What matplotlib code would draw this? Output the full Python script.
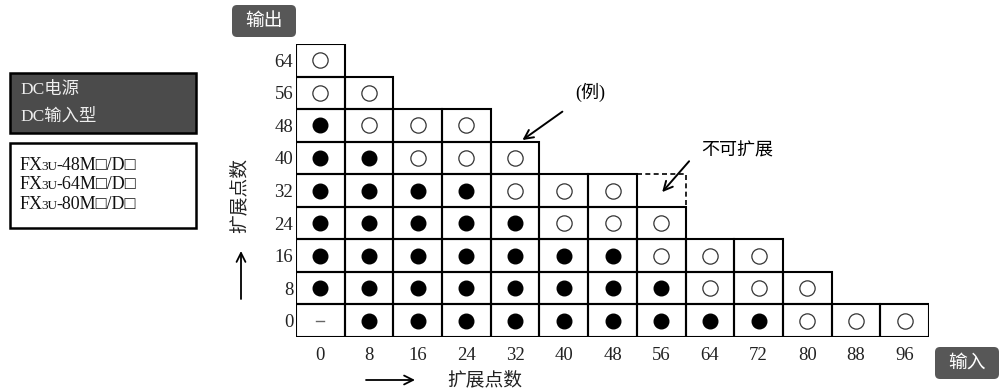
import matplotlib
matplotlib.use("Agg")
import matplotlib.pyplot as plt
from matplotlib.patches import Rectangle, FancyBboxPatch

plt.rcParams['font.family'] = ['Liberation Serif', 'Noto Sans CJK SC', 'DejaVu Sans']

# ---------------- data ----------------
input_points = [0, 8, 16, 24, 32, 40, 48, 56, 64, 72, 80, 88, 96]
output_points = [0, 8, 16, 24, 32, 40, 48, 56, 64]
# cell states per input column, from output 0 upward: F = filled, O = open, N = not applicable
col_cells = [
    ['N', 'F', 'F', 'F', 'F', 'F', 'F', 'O', 'O'],
    ['F', 'F', 'F', 'F', 'F', 'F', 'O', 'O'],
    ['F', 'F', 'F', 'F', 'F', 'O', 'O'],
    ['F', 'F', 'F', 'F', 'F', 'O', 'O'],
    ['F', 'F', 'F', 'F', 'O', 'O'],
    ['F', 'F', 'F', 'O', 'O'],
    ['F', 'F', 'F', 'O', 'O'],
    ['F', 'F', 'O', 'O'],
    ['F', 'O', 'O'],
    ['F', 'O', 'O'],
    ['O', 'O'],
    ['O'],
    ['O'],
]
dashed_cell = (56, 32)  # (input, output) not expandable
example_cell = (32, 40)
model_prefix = 'FX'
model_sub = '3U'
model_suffixes = ['-48M□/D□', '-64M□/D□', '-80M□/D□']
header_lines = ['DC电源', 'DC输入型']

W, H = 1001, 389
fig = plt.figure(figsize=(W / 100, H / 100), dpi=100)

# full-figure pixel axes for decorations
bg = fig.add_axes([0, 0, 1, 1])
bg.set_xlim(0, W)
bg.set_ylim(H, 0)
bg.axis('off')

# grid axes
gl, gr, gt, gb = 296, 929, 44, 337
ax = fig.add_axes([gl / W, (H - gb) / H, (gr - gl) / W, (gb - gt) / H])
ncol, nrow = len(input_points), len(output_points)
ax.set_xlim(0, ncol)
ax.set_ylim(0, nrow)
for s in ax.spines.values():
    s.set_visible(False)
ax.set_xticks([i + 0.5 for i in range(ncol)])
ax.set_xticklabels([str(v) for v in input_points])
ax.set_yticks([j + 0.5 for j in range(nrow)])
ax.set_yticklabels([str(v) for v in output_points])
ax.tick_params(length=0, labelsize=13.5, colors='#222222')
ax.tick_params(axis='x', pad=7)
ax.tick_params(axis='y', pad=2)
ax.patch.set_alpha(0)

lw = 1.5
for i, cells in enumerate(col_cells):
    for j, st in enumerate(cells):
        ax.add_patch(Rectangle((i, j), 1, 1, fill=False, ec='black', lw=lw, zorder=2))
        if st == 'F':
            ax.plot(i + 0.5, j + 0.5, 'o', ms=10.5, color='black', zorder=3)
        elif st == 'O':
            ax.plot(i + 0.5, j + 0.5, 'o', ms=11, mfc='white', mec='#333333', mew=0.9, zorder=3)
        else:
            ax.plot([i + 0.42, i + 0.58], [j + 0.5, j + 0.5], color='#666666', lw=1.0, zorder=3)

di = input_points.index(dashed_cell[0])
dj = output_points.index(dashed_cell[1])
ax.plot([di, di + 1, di + 1], [dj + 1, dj + 1, dj], ls=(0, (3, 2)), color='black', lw=1.2, zorder=2)

# annotations
ei = input_points.index(example_cell[0])
ej = output_points.index(example_cell[1])
ax.annotate('(例)', xy=(ei + 0.65, ej + 1.05), xycoords='data',
            xytext=(590, 92), textcoords=bg.transData, fontsize=13,
            ha='center', va='center',
            arrowprops=dict(arrowstyle='->', lw=1.4, color='black', shrinkA=9, shrinkB=0,
                            mutation_scale=16))
ax.annotate('不可扩展', xy=(di + 0.52, dj + 0.45), xycoords='data',
            xytext=(737, 151), textcoords=bg.transData, fontsize=13,
            ha='center', va='center',
            arrowprops=dict(arrowstyle='->', lw=1.4, color='black', shrinkA=10, shrinkB=0,
                            mutation_scale=16, relpos=(0, 0.7)))

# rounded labels
def tag(x0, y0, x1, y1, text):
    bg.add_patch(FancyBboxPatch((x0 + 5, y0 + 5), x1 - x0 - 10, y1 - y0 - 10,
                                boxstyle='round,pad=5', fc='#575757', ec='none'))
    bg.text((x0 + x1) / 2, (y0 + y1) / 2, text, color='white', fontsize=13.5,
            ha='center', va='center')

tag(232, 5, 296, 37, '输出')
tag(935, 347, 999, 379, '输入')

# left boxes
bg.add_patch(Rectangle((10, 73), 186, 60, fc='#4b4b4b', ec='black', lw=1.8))
for k, t in enumerate(header_lines):
    bg.text(20, 90 + k * 27, t, color='#eeeeee', fontsize=12.5, ha='left', va='center')
bg.add_patch(Rectangle((10, 143), 186, 85, fc='white', ec='black', lw=1.8))
for k, suf in enumerate(model_suffixes):
    y = 165 + k * 19.5
    t1 = bg.text(20, y, model_prefix, color='#111111', fontsize=13, ha='left', va='center')
    t2 = bg.annotate(model_sub, xy=(1, 0.5), xycoords=t1, xytext=(-1.2, -1.2),
                     textcoords='offset points', color='#111111', fontsize=9.5,
                     ha='left', va='center')
    bg.annotate(suf, xy=(1, 0.5), xycoords=t2, xytext=(-0.8, 1.2),
                textcoords='offset points', color='#111111', fontsize=13,
                ha='left', va='center')

# axis titles and arrows
bg.text(240, 195, '扩展点数', rotation=90, fontsize=13.5, ha='center', va='center', color='#222222')
bg.annotate('', xy=(241, 251), xytext=(241, 299),
            arrowprops=dict(arrowstyle='->', lw=1.3, color='black', mutation_scale=16,
                            shrinkA=0, shrinkB=0))
bg.text(485, 380, '扩展点数', fontsize=13.5, ha='center', va='center', color='#222222')
bg.annotate('', xy=(415, 380), xytext=(366, 380),
            arrowprops=dict(arrowstyle='->', lw=1.3, color='black', mutation_scale=16,
                            shrinkA=0, shrinkB=0))

fig.savefig('out.png', dpi=100)
